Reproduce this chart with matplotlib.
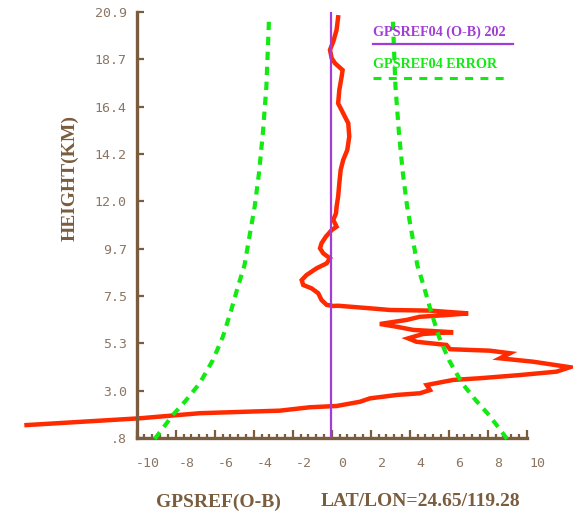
import matplotlib
matplotlib.use("Agg")
import matplotlib.pyplot as plt
from matplotlib.lines import Line2D
import numpy as np

# GPS refractivity O-B profile (x: O-B, y: height in km)
ob_height = [20.65, 20.05, 19.50, 19.11, 18.72, 18.48, 18.16, 17.85, 17.22, 16.59,
             16.12, 15.65, 15.02, 14.39, 13.92, 13.45, 12.82, 12.19, 11.71, 11.40,
             11.09, 10.77, 10.61, 10.30, 9.99, 9.75, 9.51, 9.28, 9.04, 8.81,
             8.49, 8.25, 8.02, 7.86, 7.63, 7.31, 7.08, 7.03, 7.04, 6.92,
             6.84, 6.81, 6.68, 6.60, 6.52, 6.37, 6.18, 6.05, 5.90, 5.79,
             5.71, 5.50, 5.34, 5.19, 4.99, 4.92, 4.80, 4.56, 4.40, 4.14,
             3.93, 3.77, 3.62, 3.54, 3.30, 3.06, 2.91, 2.83, 2.67, 2.51,
             2.31, 2.25, 2.09, 1.97, 1.73, 1.41]
ob_value = [-0.23, -0.31, -0.48, -0.65, -0.56, -0.39, 0.00, -0.05, -0.17, -0.23,
            0.03, 0.29, 0.34, 0.24, 0.03, -0.10, -0.17, -0.23, -0.31, -0.34,
            -0.48, -0.31, -0.56, -0.86, -1.08, -1.16, -0.99, -0.65, -0.82, -1.33,
            -1.85, -2.10, -2.02, -1.59, -1.25, -1.08, -0.82, -0.48, -0.23, 1.40,
            2.43, 4.48, 6.44, 5.33, 3.96, 3.28, 1.91, 2.77, 3.62, 5.67,
            4.13, 3.36, 3.79, 5.33, 5.50, 7.55, 8.58, 8.07, 9.77, 11.66,
            10.97, 9.09, 7.04, 5.67, 4.31, 4.48, 3.96, 2.77, 1.40, 0.89,
            -0.31, -1.68, -3.22, -7.32, -10.40, -16.21]

# mean O-B and observation error envelope
ob_mean = -0.6
err_height = [20.44, 17.38, 15.18, 13.29, 11.71, 10.14, 8.96, 7.94, 6.84, 5.58,
              4.48, 3.38, 2.59, 1.89, 1.26, 0.70]
err_value = [3.18, 3.31, 3.49, 3.69, 3.91, 4.21, 4.43, 4.77, 5.11, 5.54,
             6.05, 6.73, 7.42, 8.10, 8.62, 9.08]

y_ticks = [0.8, 3.03, 5.27, 7.5, 9.73, 11.97, 14.2, 16.43, 18.67, 20.9]
y_labels = [".8", "3.0", "5.3", "7.5", "9.7", "12.0", "14.2", "16.4", "18.7", "20.9"]
x_label_vals = [-10, -8, -6, -4, -2, 0, 2, 4, 6, 8, 10]
x_labels = ["-10", "-8", "-6", "-4", "-2", "0", "2", "4", "6", "8", "10"]

legend_ob = "GPSREF04 (O-B) 202"
legend_err = "GPSREF04 ERROR"
xlabel_left = "GPSREF(O-B)"
xlabel_right = "LAT/LON=24.65/119.28"
ylabel = "HEIGHT(KM)"

AXC = "#7a5c3e"
LABC = "#8a7662"
RED = "#ff2a00"
GREEN = "#12ea12"
PURPLE = "#a23cd6"
MONO = ["DejaVu Sans Mono"]
SERIF = ["Liberation Serif", "DejaVu Serif"]

plt.rcParams["axes.unicode_minus"] = False

W, H = 573, 518
fig = plt.figure(figsize=(W / 100, H / 100), dpi=100)

x_lo, x_hi, x_end = -10.56, 10.6, 9.44
ax = fig.add_axes([136.7 / W, 1 - 438 / H, (x_hi - x_lo) * 19.5 / W, 426 / H])
ax.set_xlim(x_lo, x_hi)
ax.set_ylim(0.8, 20.9)

for s in ("top", "right"):
    ax.spines[s].set_visible(False)
for s in ("left", "bottom"):
    ax.spines[s].set_color(AXC)
    ax.spines[s].set_linewidth(2.4)
ax.spines["bottom"].set_bounds(x_lo, x_end)

# profile, error envelope and mean line
ax.plot(ob_value, ob_height, color=RED, lw=3.2, clip_on=False, zorder=2,
        solid_joinstyle="miter")
err_h = np.array(err_height)
err_v = np.array(err_value)
for sign in (-1, 1):
    ax.plot(ob_mean + sign * err_v, err_h, color=GREEN, lw=3.0,
            linestyle=(0, (2.0, 1.6)), clip_on=False, zorder=3)
ax.axvline(ob_mean, color=PURPLE, lw=1.6, zorder=4)

# y axis ticks
ax.set_yticks(y_ticks, y_labels)
ax.tick_params(axis="y", direction="in", length=5, width=1.6, color=AXC,
               labelcolor=LABC, labelsize=9.5, pad=7.2)
for t in ax.get_yticklabels():
    t.set_fontfamily(MONO)

# x axis: long marks every 2, short marks every 0.4
ax.set_xticks(np.arange(x_lo, x_end + 0.01, 2.0))
ax.set_xticks(np.arange(x_lo, x_end + 0.01, 0.4), minor=True)
ax.tick_params(axis="x", which="major", direction="in", length=5.5, width=1.6,
               color=AXC, labelbottom=False)
ax.tick_params(axis="x", which="minor", direction="in", length=3.2, width=1.6,
               color=AXC)

sec = ax.secondary_xaxis("bottom")
sec.spines["bottom"].set_visible(False)
sec.set_xticks(x_label_vals, x_labels)
sec.tick_params(axis="x", length=0, pad=14, labelcolor=LABC, labelsize=9.5)
for t in sec.get_xticklabels():
    t.set_fontfamily(MONO)

# axis titles
title_kw = dict(color=AXC, fontsize=14, fontweight="bold", family=SERIF)
fig.text(70 / W, 1 - 178 / H, ylabel, rotation=90, ha="center", va="center",
         **title_kw)
fig.text(218 / W, 1 - 502 / H, xlabel_left, ha="center", va="center", **title_kw)
fig.text(420 / W, 1 - 502 / H, xlabel_right, ha="center", va="center", **title_kw)

# legend
fig.text(373 / W, 1 - 32.5 / H, legend_ob, ha="left", va="center",
         color=PURPLE, fontsize=10.2, fontweight="bold", family=SERIF)
fig.add_artist(Line2D([373 / W, 513 / W], [1 - 44.3 / H, 1 - 44.3 / H],
                      color=PURPLE, lw=1.6, transform=fig.transFigure))
fig.text(373 / W, 1 - 64 / H, legend_err, ha="left", va="center",
         color=GREEN, fontsize=10.2, fontweight="bold", family=SERIF)
fig.add_artist(Line2D([373 / W, 510 / W], [1 - 78.3 / H, 1 - 78.3 / H],
                      color=GREEN, lw=2.2, linestyle=(0, (2.6, 2.4)),
                      transform=fig.transFigure))

fig.savefig("out.png", dpi=100, facecolor="white")
